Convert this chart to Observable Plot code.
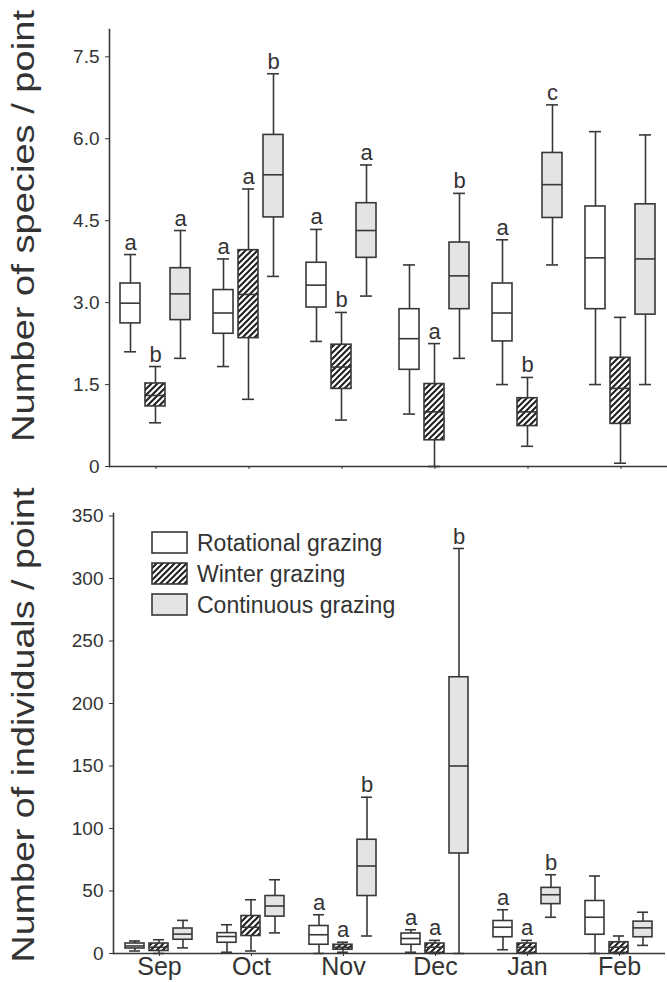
<!DOCTYPE html>
<html>
<head>
<meta charset="utf-8">
<script src="https://cdn.jsdelivr.net/npm/d3@7"></script>
<script src="https://cdn.jsdelivr.net/npm/@observablehq/plot@0.6"></script>
<style>
  html, body { margin: 0; padding: 0; background: white; }
  #wrap { width: 667px; }
  #wrap svg { display: block; }
</style>
</head>
<body>
<svg width="0" height="0" style="position:absolute">
  <defs>
    <pattern id="hatch" patternUnits="userSpaceOnUse" width="6" height="6">
      <rect width="6" height="6" fill="white"></rect>
      <path d="M-1,1 l2,-2 M0,6 l6,-6 M5,7 l2,-2" stroke="#1e1e1e" stroke-width="2"></path>
    </pattern>
  </defs>
</svg>
<div id="wrap"></div>
<script>
// ---------- data ----------
const months = ["Sep", "Oct", "Nov", "Dec", "Jan", "Feb"];
const groups = ["Rotational grazing", "Winter grazing", "Continuous grazing"];
const groupFills = ["white", "url(#hatch)", "#e4e4e6"];

// [whisker low, Q1, median, Q3, whisker high] per month
const speciesRotational = [
  [2.10, 2.62, 2.99, 3.35, 3.88],
  [1.83, 2.43, 2.81, 3.23, 3.80],
  [2.29, 2.91, 3.32, 3.73, 4.34],
  [0.96, 1.77, 2.34, 2.88, 3.69],
  [1.50, 2.29, 2.81, 3.35, 4.15],
  [1.50, 2.88, 3.82, 4.76, 6.13]
];
const speciesWinter = [
  [0.80, 1.10, 1.30, 1.52, 1.83],
  [1.23, 2.35, 3.15, 3.96, 5.08],
  [0.85, 1.42, 1.82, 2.23, 2.82],
  [0.00, 0.48, 1.00, 1.51, 2.25],
  [0.37, 0.74, 1.00, 1.25, 1.63],
  [0.06, 0.78, 1.43, 1.99, 2.73]
];
const speciesContinuous = [
  [1.98, 2.68, 3.16, 3.63, 4.32],
  [3.48, 4.56, 5.34, 6.07, 7.19],
  [3.12, 3.82, 4.32, 4.82, 5.52],
  [1.98, 2.88, 3.49, 4.10, 5.00],
  [3.69, 4.55, 5.16, 5.74, 6.62],
  [1.50, 2.78, 3.80, 4.80, 6.07]
];
const speciesLetters = [
  ["a", "b", "a"],
  ["a", "a", "b"],
  ["a", "b", "a"],
  ["", "a", "b"],
  ["a", "b", "c"],
  ["", "", ""]
];

const individualsRotational = [
  [2, 4, 6, 8, 10],
  [1, 8.6, 13.6, 16.3, 23],
  [0, 7, 15, 22, 31],
  [1, 7, 12, 16, 19],
  [3, 13, 21, 26, 35],
  [0, 15, 29, 42, 62]
];
const individualsWinter = [
  [0, 2, 5, 8, 11],
  [2, 14, 21, 30, 43],
  [1, 3, 5, 7, 9],
  [0, 0.5, 5, 8, 10.5],
  [0, 0.5, 5, 8, 10.5],
  [0, 0.5, 5, 9, 14]
];
const individualsContinuous = [
  [4.5, 11, 15.5, 20, 26.5],
  [16.5, 29.5, 38, 46, 59],
  [14, 46, 70, 91, 125],
  [0, 80, 150, 221, 324],
  [29, 39.5, 47, 52.5, 63],
  [6.5, 13, 20.5, 25.5, 33]
];
const individualsLetters = [
  ["", "", ""],
  ["", "", ""],
  ["a", "a", "b"],
  ["a", "a", "b"],
  ["a", "a", "b"],
  ["", "", ""]
];

const speciesTicks = [0, 1.5, 3.0, 4.5, 6.0, 7.5];
const individualsTicks = [0, 50, 100, 150, 200, 250, 300, 350];

// ---------- build tables ----------
function table(series, letters) {
  const rows = [];
  months.forEach((m, i) => {
    groups.forEach((g, j) => {
      const [lo, q1, med, q3, hi] = series[j][i];
      rows.push({month: m, group: g, lo, q1, med, q3, hi, letter: letters[i][j]});
    });
  });
  return rows;
}
const speciesData = table([speciesRotational, speciesWinter, speciesContinuous], speciesLetters);
const individualsData = table([individualsRotational, individualsWinter, individualsContinuous], individualsLetters);

const ink = "#383838";
const font = "Liberation Sans, Arial, Helvetica, sans-serif";

function boxMarks(data) {
  return [
    Plot.ruleX(data, {fx: "month", x: "group", y1: "lo", y2: "hi", stroke: ink, strokeWidth: 1.6}),
    Plot.tickY(data, {fx: "month", x: "group", y: "lo", stroke: ink, strokeWidth: 1.6, insetLeft: 4, insetRight: 4}),
    Plot.tickY(data, {fx: "month", x: "group", y: "hi", stroke: ink, strokeWidth: 1.6, insetLeft: 4, insetRight: 4}),
    Plot.barY(data, {fx: "month", x: "group", y1: "q1", y2: "q3", fill: "group", stroke: ink, strokeWidth: 1.6}),
    Plot.tickY(data, {fx: "month", x: "group", y: "med", stroke: ink, strokeWidth: 1.6}),
    Plot.text(data.filter(d => d.letter), {fx: "month", x: "group", y: "hi", text: "letter", lineAnchor: "bottom", dy: -5, fontSize: 22, fill: "#333"}),
    Plot.ruleY([0], {stroke: ink, strokeWidth: 1.6}),
    Plot.frame({anchor: "left", facetAnchor: "left", stroke: ink, strokeWidth: 1.6})
  ];
}

const common = {
  width: 667,
  marginRight: 0,
  style: {fontFamily: font, color: "#333", background: "white", overflow: "visible"},
  x: {domain: groups, paddingInner: 0.19, paddingOuter: 0.44, axis: null},
  color: {domain: groups, range: groupFills}
};

const chartTop = Plot.plot({
  ...common,
  height: 480,
  marginLeft: 108,
  marginTop: 29,
  marginBottom: 14,
  fx: {domain: months, padding: 0},
  y: {domain: [0, 8]},
  marks: [
    ...boxMarks(speciesData),
    Plot.axisY({ticks: speciesTicks, tickFormat: d => d === 0 ? "0" : d.toFixed(1), tickSize: 4, tickPadding: 6, fontSize: 19, label: null, stroke: ink}),
    Plot.axisFx({anchor: "bottom", tickSize: 3, tickFormat: () => "", label: null, stroke: ink})
  ]
});

const chartBottom = Plot.plot({
  ...common,
  height: 502,
  marginLeft: 110,
  marginTop: 33,
  marginBottom: 29,
  fx: {domain: months, padding: 0},
  y: {domain: [0, 352]},
  marks: [
    ...boxMarks(individualsData),
    Plot.axisY({ticks: individualsTicks, tickSize: 4, tickPadding: 6, fontSize: 19, label: null, stroke: ink}),
    Plot.axisFx({anchor: "bottom", tickSize: 3, tickPadding: 1, fontSize: 25, label: null, stroke: ink})
  ]
});

function yLabel(svg, text, cy, len) {
  d3.select(svg).append("text")
    .attr("transform", `translate(34,${cy}) rotate(-90)`)
    .attr("text-anchor", "middle")
    .attr("font-size", 31)
    .attr("font-family", font)
    .attr("fill", "#333")
    .attr("textLength", len)
    .attr("lengthAdjust", "spacingAndGlyphs")
    .text(text);
}
yLabel(chartTop, "Number of species / point", 226, 432);
yLabel(chartBottom, "Number of individuals / point", 245, 475);

// legend
const lg = d3.select(chartBottom).append("g")
  .attr("font-family", font).attr("font-size", 23).attr("fill", "#333").attr("text-anchor", "start");
groups.forEach((g, i) => {
  const y0 = 52 + i * 31;
  lg.append("rect").attr("x", 152).attr("y", y0).attr("width", 35).attr("height", 21)
    .attr("fill", groupFills[i]).attr("stroke", ink).attr("stroke-width", 1.6);
  lg.append("text").attr("x", 197).attr("y", y0 + 19).attr("text-anchor", "start").text(g);
});

document.getElementById("wrap").append(chartTop, chartBottom);
</script>
</body>
</html>
